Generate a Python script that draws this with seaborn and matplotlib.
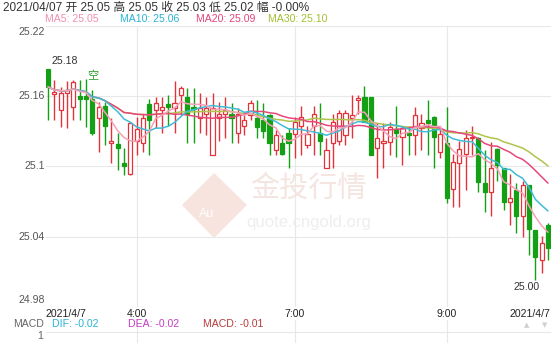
import numpy as np
import pandas as pd
import matplotlib
matplotlib.use("Agg")
import matplotlib.pyplot as plt
import matplotlib.transforms as mtransforms
from matplotlib.patches import Polygon
import seaborn as sns

# ---------------- data ----------------
opens = [25.183, 25.162, 25.148, 25.163, 25.151, 25.160, 25.160, 25.158, 25.141, 25.152,
         25.120, 25.119, 25.103, 25.094, 25.122, 25.120, 25.153, 25.148, 25.148, 25.153,
         25.150, 25.161, 25.159, 25.150, 25.141, 25.145, 25.110, 25.141, 25.145, 25.145,
         25.129, 25.135, 25.144, 25.141, 25.140, 25.144, 25.114, 25.120, 25.129, 25.128,
         25.135, 25.118, 25.135, 25.129, 25.099, 25.120, 25.122, 25.127, 25.141, 25.157,
         25.159, 25.159, 25.116, 25.120, 25.121, 25.132, 25.125, 25.129, 25.127, 25.133,
         25.140, 25.142, 25.112, 25.120, 25.081, 25.103, 25.111, 25.124, 25.124, 25.086,
         25.078, 25.115, 25.099, 25.070, 25.080, 25.058, 25.084, 25.046, 25.020, 25.050]
highs = [25.183, 25.174, 25.168, 25.173, 25.174, 25.174, 25.175, 25.165, 25.155, 25.155,
         25.141, 25.129, 25.116, 25.138, 25.142, 25.145, 25.158, 25.159, 25.159, 25.161,
         25.173, 25.169, 25.167, 25.167, 25.163, 25.159, 25.163, 25.155, 25.159, 25.154,
         25.150, 25.145, 25.157, 25.157, 25.154, 25.145, 25.131, 25.127, 25.133, 25.142,
         25.152, 25.135, 25.152, 25.154, 25.124, 25.145, 25.148, 25.148, 25.161, 25.161,
         25.169, 25.159, 25.137, 25.137, 25.138, 25.152, 25.135, 25.135, 25.151, 25.145,
         25.157, 25.143, 25.133, 25.151, 25.111, 25.122, 25.131, 25.135, 25.125, 25.114,
         25.121, 25.116, 25.099, 25.094, 25.086, 25.088, 25.084, 25.046, 25.041, 25.052]
lows = [25.140, 25.140, 25.134, 25.133, 25.140, 25.140, 25.134, 25.127, 25.112, 25.118,
        25.103, 25.097, 25.093, 25.093, 25.110, 25.112, 25.110, 25.133, 25.129, 25.135,
        25.129, 25.144, 25.120, 25.120, 25.129, 25.127, 25.110, 25.122, 25.124, 25.120,
        25.120, 25.127, 25.140, 25.124, 25.124, 25.110, 25.110, 25.110, 25.099, 25.107,
        25.110, 25.116, 25.110, 25.110, 25.099, 25.099, 25.118, 25.118, 25.124, 25.145,
        25.138, 25.110, 25.090, 25.099, 25.110, 25.108, 25.101, 25.110, 25.110, 25.114,
        25.110, 25.099, 25.107, 25.069, 25.065, 25.065, 25.080, 25.110, 25.078, 25.061,
        25.058, 25.088, 25.063, 25.050, 25.043, 25.040, 25.024, 25.003, 25.009, 25.020]
closes = [25.168, 25.163, 25.163, 25.165, 25.172, 25.158, 25.158, 25.129, 25.151, 25.135,
          25.122, 25.116, 25.100, 25.137, 25.132, 25.141, 25.140, 25.154, 25.151, 25.151,
          25.154, 25.167, 25.145, 25.149, 25.150, 25.150, 25.150, 25.145, 25.148, 25.141,
          25.145, 25.140, 25.154, 25.134, 25.130, 25.120, 25.127, 25.111, 25.120, 25.138,
          25.142, 25.128, 25.145, 25.122, 25.114, 25.138, 25.146, 25.146, 25.144, 25.158,
          25.138, 25.110, 25.124, 25.122, 25.134, 25.129, 25.133, 25.127, 25.144, 25.137,
          25.137, 25.125, 25.128, 25.073, 25.104, 25.115, 25.124, 25.125, 25.087, 25.078,
          25.099, 25.101, 25.070, 25.073, 25.058, 25.084, 25.047, 25.023, 25.035, 25.030]

ma_windows = [5, 10, 20, 30]
ma_names = ["MA5", "MA10", "MA20", "MA30"]
ma_labels = ["MA5: 25.05", "MA10: 25.06", "MA20: 25.09", "MA30: 25.10"]
ma_colors = ["#f5a0b8", "#3fbcd8", "#e6487c", "#afc44a"]
ma_text_colors = ["#f090b0", "#2ab4d6", "#e4447a", "#a0c030"]

y_ticks = [24.98, 25.04, 25.10, 25.16, 25.22]
y_tick_labels = ["24.98", "25.04", "25.1", "25.16", "25.22"]
x_tick_pos = [14, 39, 63]
x_tick_labels = ["4:00", "7:00", "9:00"]
date_label = "2021/4/7"
header = "2021/04/07 开 25.05 高 25.05 收 25.03 低 25.02 幅 -0.00%"
macd_items = [("DIF: -0.02", "#2ab4d6"), ("DEA: -0.02", "#c43cc4"), ("MACD: -0.01", "#b83a3a")]

# ---------------- figure ----------------
sns.set_theme(style="white")
plt.rcParams["font.family"] = ["Liberation Sans", "Noto Sans CJK SC", "DejaVu Sans"]

W, H = 558, 343
fig = plt.figure(figsize=(W / 100, H / 100), dpi=100)
fig.patch.set_facecolor("white")

def fx(x):
    return x / W

def fy(y):
    return 1 - y / H

n = len(closes)
step = 500 / 79.0
left_px, right_px, top_px, bot_px = 46, 551, 26, 307
ax = fig.add_axes([fx(left_px), fy(bot_px), (right_px - left_px) / W, (bot_px - top_px) / H])
ax.set_xlim((left_px - 48) / step, (right_px - 48) / step)
ax.set_ylim(24.98, 25.22)
for s in ax.spines.values():
    s.set_visible(False)
ax.set_xticks([])
ax.set_yticks([])

grid_c = "#e8e8e8"
for v in y_ticks:
    ax.axhline(v, color=grid_c, lw=0.8, zorder=0)
for p in x_tick_pos:
    ax.axvline(p, color=grid_c, lw=0.8, zorder=0)

df = pd.DataFrame({"i": np.arange(n), "open": opens, "high": highs,
                   "low": lows, "close": closes})
up = df["close"] >= df["open"]
red, green = "#e2333a", "#14a014"
wick_cols = np.where(up, red, green)
ax.vlines(df["i"], df["low"], df["high"], colors=wick_cols, lw=1.0, zorder=2)
body_bottom = np.minimum(df["open"], df["close"])
body_h = np.maximum((df["close"] - df["open"]).abs(), 0.0015)
ax.bar(df["i"], body_h, bottom=body_bottom, width=0.66,
       color=np.where(up, "white", green), edgecolor=wick_cols, linewidth=0.9, zorder=3)

# moving averages
long = []
for w, name in zip(ma_windows, ma_names):
    m = df["close"].rolling(w, min_periods=1).mean()
    long.append(pd.DataFrame({"i": df["i"], "value": m, "ma": name}))
long = pd.concat(long, ignore_index=True)
sns.lineplot(data=long, x="i", y="value", hue="ma", hue_order=ma_names[::-1],
             palette=dict(zip(ma_names, ma_colors)), legend=False, ax=ax,
             linewidth=1.1, zorder=4)
ax.set_xlabel("")
ax.set_ylabel("")

# y labels
trans = mtransforms.blended_transform_factory(ax.transAxes, ax.transData)
xlab = -1.0 / (right_px - left_px)
for v, lab in zip(y_ticks, y_tick_labels):
    va = "center"
    dy = 0
    if v == y_ticks[0]:
        va, dy = "bottom", 0.0015
    elif v == y_ticks[-1]:
        va, dy = "top", -0.001
    ax.text(xlab, v + dy, lab, transform=trans, ha="right", va=va,
            fontsize=7.6, color="#555555")

# annotations for max / min
imax = int(np.argmax(highs))
imin = int(np.argmin(lows))
ax.annotate(f"{highs[imax]:.2f}", (imax, highs[imax]), textcoords="offset pixels",
            xytext=(4, 8), ha="left", va="center", fontsize=7.6, color="#333333")
ax.annotate(f"{lows[imin]:.2f}", (imin, lows[imin]), textcoords="offset pixels",
            xytext=(-9, -7), ha="center", va="center", fontsize=7.6, color="#333333")
ax.annotate("空", (7, highs[7]), textcoords="offset pixels", xytext=(0, 14),
            ha="center", va="center", fontsize=8, color="#2a9a2a",
            family=["Noto Sans CJK SC"])

# watermark
ident = mtransforms.IdentityTransform()
def P(x, y):
    return (x, H - y)
diamond = Polygon([P(214, 173), P(247, 205), P(214, 238), P(182, 205)], closed=True,
                  facecolor="#f7e4de", edgecolor="none", transform=ident, zorder=0.5)
fig.add_artist(diamond)
fig.text(fx(207), fy(214), "Au", fontsize=9, color="white", ha="center", va="center")
fig.text(fx(308), fy(189), "金投行情", fontsize=21, color="#f5e5e0", ha="center", va="center")
fig.text(fx(309), fy(222), "quote.cngold.org", fontsize=12, color="#eeeeee", ha="center", va="center")

# header
fig.text(fx(3), fy(8), header, fontsize=8.5, color="#333333", ha="left", va="center")
for xp, lab, c in zip([45, 120, 196, 268], ma_labels, ma_text_colors):
    fig.text(fx(xp), fy(19), lab, fontsize=7.6, color=c, ha="left", va="center")

# x labels
fig.text(fx(45), fy(314), date_label, fontsize=7.6, color="#222222", ha="left", va="center")
fig.text(fx(550), fy(314), date_label, fontsize=7.6, color="#222222", ha="right", va="center")
for p, lab in zip(x_tick_pos, x_tick_labels):
    px = 48 + p * step
    fig.text(fx(px), fy(314), lab, fontsize=7.6, color="#222222", ha="center", va="center")

# MACD panel
ax2 = fig.add_axes([fx(left_px), 0, (right_px - left_px) / W, fy(320)])
ax2.set_xlim(ax.get_xlim())
ax2.set_ylim(0, 1)
ax2.axis("off")
for p in x_tick_pos:
    ax2.axvline(p, color=grid_c, lw=0.8, zorder=0)
ax2.axhline(0.5, color=grid_c, lw=0.8, zorder=0)
fig.text(fx(44), fy(324), "MACD", fontsize=7.6, color="#666666", ha="right", va="center")
for xp, (lab, c) in zip([52, 128, 203], macd_items):
    fig.text(fx(xp), fy(324), lab, fontsize=7.6, color=c, ha="left", va="center")
fig.text(fx(43), fy(336), "1", fontsize=7.6, color="#666666", ha="right", va="center")
fig.text(fx(527), fy(325), "▲", fontsize=5, color="#d0d0d0", ha="center", va="center",
         family="DejaVu Sans")
fig.text(fx(545), fy(325), "▼", fontsize=5, color="#d0d0d0", ha="center", va="center",
         family="DejaVu Sans")

fig.savefig("out.png", dpi=100, facecolor="white")
